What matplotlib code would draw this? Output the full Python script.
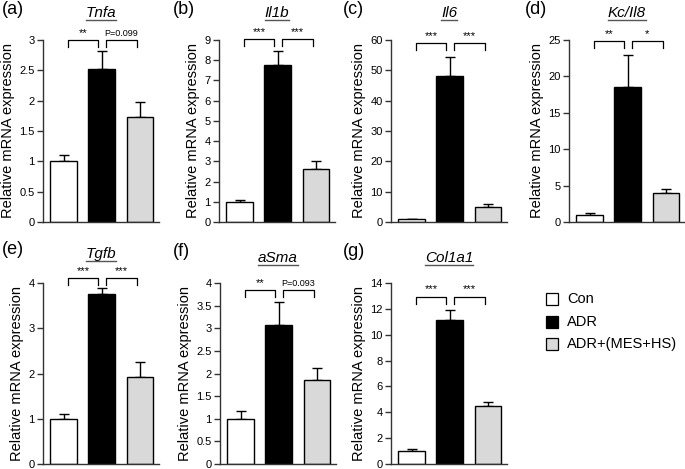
import matplotlib
matplotlib.use('Agg')
import matplotlib.pyplot as plt
from matplotlib.patches import Rectangle
from matplotlib.lines import Line2D

plt.rcParams['font.family'] = ['Liberation Sans', 'DejaVu Sans']

# ---- data ----
groups = ['Con', 'ADR', 'ADR+(MES+HS)']
bar_colors = ['white', 'black', '#d9d9d9']

genes = ['Tnfa', 'Il1b', 'Il6', 'Kc/Il8', 'Tgfb', 'aSma', 'Col1a1']
panel_labels = ['(a)', '(b)', '(c)', '(d)', '(e)', '(f)', '(g)']

tnfa_mean = [1.0, 2.52, 1.73]
tnfa_err = [0.10, 0.30, 0.25]
il1b_mean = [1.0, 7.75, 2.60]
il1b_err = [0.10, 0.72, 0.43]
il6_mean = [1.0, 48.0, 5.0]
il6_err = [0.15, 6.5, 1.0]
kc_mean = [1.0, 18.6, 4.0]
kc_err = [0.20, 4.4, 0.6]
tgfb_mean = [1.0, 3.75, 1.92]
tgfb_err = [0.10, 0.13, 0.33]
asma_mean = [1.0, 3.08, 1.86]
asma_err = [0.17, 0.50, 0.26]
col1a1_mean = [1.0, 11.1, 4.45]
col1a1_err = [0.15, 0.85, 0.35]

means = [tnfa_mean, il1b_mean, il6_mean, kc_mean, tgfb_mean, asma_mean, col1a1_mean]
errs = [tnfa_err, il1b_err, il6_err, kc_err, tgfb_err, asma_err, col1a1_err]

y_max = [3, 9, 60, 25, 4, 4, 14]
y_step = [0.5, 1, 10, 5, 1, 0.5, 2]

sig_left = ['**', '***', '***', '**', '***', '**', '***']
sig_right = ['P=0.099', '***', '***', '*', '***', 'P=0.093', '***']
bracket_y = [3.0, 9.05, 59.0, 24.85, 4.11, 3.85, 12.95]

# ---- layout (pixels) ----
W, H = 685, 469
fig = plt.figure(figsize=(W / 100, H / 100), dpi=100)

lefts = [43, 219, 391, 569, 43, 220, 391]
bottoms = [222, 222, 222, 222, 464, 464, 464]
tops = [40, 40, 40, 40, 283, 283, 283]
ax_w = 116
title_off = [27, 27, 27, 27, 29, 25, 25]
label_pos = [(2, 10), (173, 10), (343, 10), (525, 10), (2, 250), (173, 252), (343, 252)]

titles = []
for i in range(7):
    l, b, t = lefts[i], bottoms[i], tops[i]
    ax = fig.add_axes([l / W, 1 - b / H, ax_w / W, (b - t) / H])
    x = [0, 1, 2]
    ax.bar(x, means[i], width=0.7, color=bar_colors, edgecolor='black', linewidth=1.0, zorder=2)
    ax.errorbar(x, means[i], yerr=[[0, 0, 0], errs[i]], fmt='none', ecolor='black',
                elinewidth=1.0, capsize=3.5, capthick=1.0, zorder=1)
    ax.set_xlim(-0.54, 2.5)
    ax.set_ylim(0, y_max[i])
    n = int(round(y_max[i] / y_step[i]))
    ticks = [k * y_step[i] for k in range(n + 1)]
    ax.set_yticks(ticks)
    ax.set_yticklabels(['%g' % v for v in ticks], fontsize=8)
    ax.set_xticks([])
    for s in ['top', 'right']:
        ax.spines[s].set_visible(False)
    for s in ['left', 'bottom']:
        ax.spines[s].set_color('#333333')
        ax.spines[s].set_linewidth(1.0)
    ax.tick_params(axis='y', direction='out', length=4, width=1.0, color='#333333', pad=2)
    ax.set_ylabel('Relative mRNA expression', fontsize=10.5, labelpad=3)

    # brackets
    ym = y_max[i]
    by = bracket_y[i]
    px_unit = ym / (b - t)
    d = 7 * px_unit
    for (x0, x1, txt) in [(0.12, 0.9, sig_left[i]), (1.1, 1.92, sig_right[i])]:
        ax.plot([x0, x0, x1, x1], [by - d, by, by, by - d], color='black', lw=0.9,
                clip_on=False, zorder=3)
        fs = 6.5 if txt.startswith('P') else 8
        ax.text((x0 + x1) / 2, by + 2 * px_unit, txt, ha='center', va='bottom',
                fontsize=fs, clip_on=False)

    # title
    tt = fig.text((l + ax_w / 2) / W, 1 - (t - title_off[i]) / H, genes[i],
                  ha='center', va='center', fontsize=11, style='italic')
    titles.append(tt)
    px, py = label_pos[i]
    fig.text(px / W, 1 - py / H, panel_labels[i], ha='left', va='center', fontsize=13)

# legend
leg_y = [299, 322, 344]
for c, lab, yy in zip(bar_colors, groups, leg_y):
    fig.add_artist(Rectangle(((546) / W, 1 - (yy + 6) / H), 12 / W, 12 / H,
                             facecolor=c, edgecolor='black', linewidth=0.9,
                             transform=fig.transFigure))
    fig.text(567 / W, 1 - yy / H, lab, ha='left', va='center', fontsize=10.5)

# underline titles
fig.canvas.draw()
r = fig.canvas.get_renderer()
for tt in titles:
    bb = tt.get_window_extent(r)
    y = bb.y0 - 0.5
    fig.add_artist(Line2D([bb.x0 / W, bb.x1 / W], [y / H, y / H], color='#555555',
                          lw=1.0, transform=fig.transFigure))

fig.savefig('out.png', dpi=100)
